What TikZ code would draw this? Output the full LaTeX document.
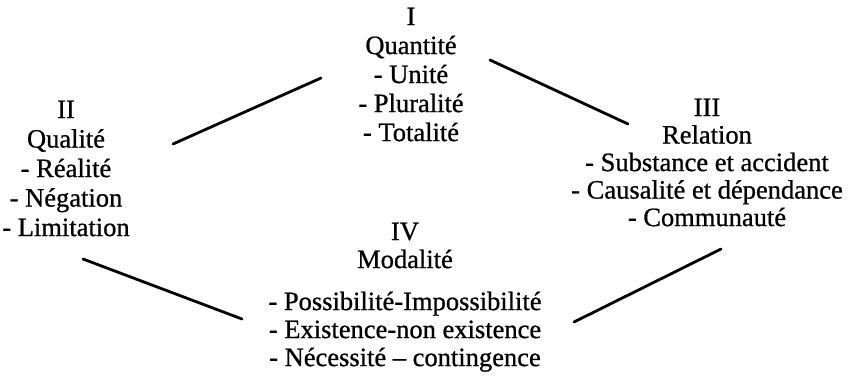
\documentclass[tikz,border=0pt]{standalone}
\usepackage{fontspec}
\setmainfont{Liberation Serif}
\newfontfamily\encre{Liberation Serif}[FakeBold=0.8]
\tikzset{
  categorie/.style={align=center,inner sep=0pt,anchor=north,font=\encre\fontsize{26.5}{29}\selectfont},
  lien/.style={line width=2.8pt,line cap=round}
}

\begin{document}
\begin{tikzpicture}[x=1pt,y=-1pt]
    \useasboundingbox (0,0) rectangle (858,383);
    \node [categorie] (quantite) at (411,7.5) {I\\Quantité\\- Unité\\- Pluralité\\- Totalité};
    \node [categorie,font=\encre\fontsize{26.5}{29.5}\selectfont] (qualite) at (66,100.5) {II\\Qualité\\- Réalité\\- Négation\\- Limitation};
    \node [categorie,font=\encre\fontsize{26.5}{27.5}\selectfont] (relation) at (707,98.5) {III\\Relation\\- Substance et accident\\- Causalité et dépendance\\- Communauté};
    \node [categorie,font=\encre\fontsize{26.5}{28}\selectfont] (modalite) at (405,222.5) {IV\\Modalité\\[14pt]- Possibilité-Impossibilité\\- Existence-non existence\\- Nécessité – contingence};
    \coordinate (qual-haut) at (173,144);
    \coordinate (quant-gauche) at (321,78);
    \coordinate (quant-droite) at (490,60);
    \coordinate (rel-haut) at (628,124);
    \coordinate (qual-bas) at (83,259);
    \coordinate (mod-gauche) at (242,319);
    \coordinate (mod-droite) at (574,322);
    \coordinate (rel-bas) at (721,249);
    \draw [lien] (qual-haut) -- (quant-gauche);
    \draw [lien] (quant-droite) -- (rel-haut);
    \draw [lien] (qual-bas) -- (mod-gauche);
    \draw [lien] (mod-droite) -- (rel-bas);
\end{tikzpicture}
\end{document}
